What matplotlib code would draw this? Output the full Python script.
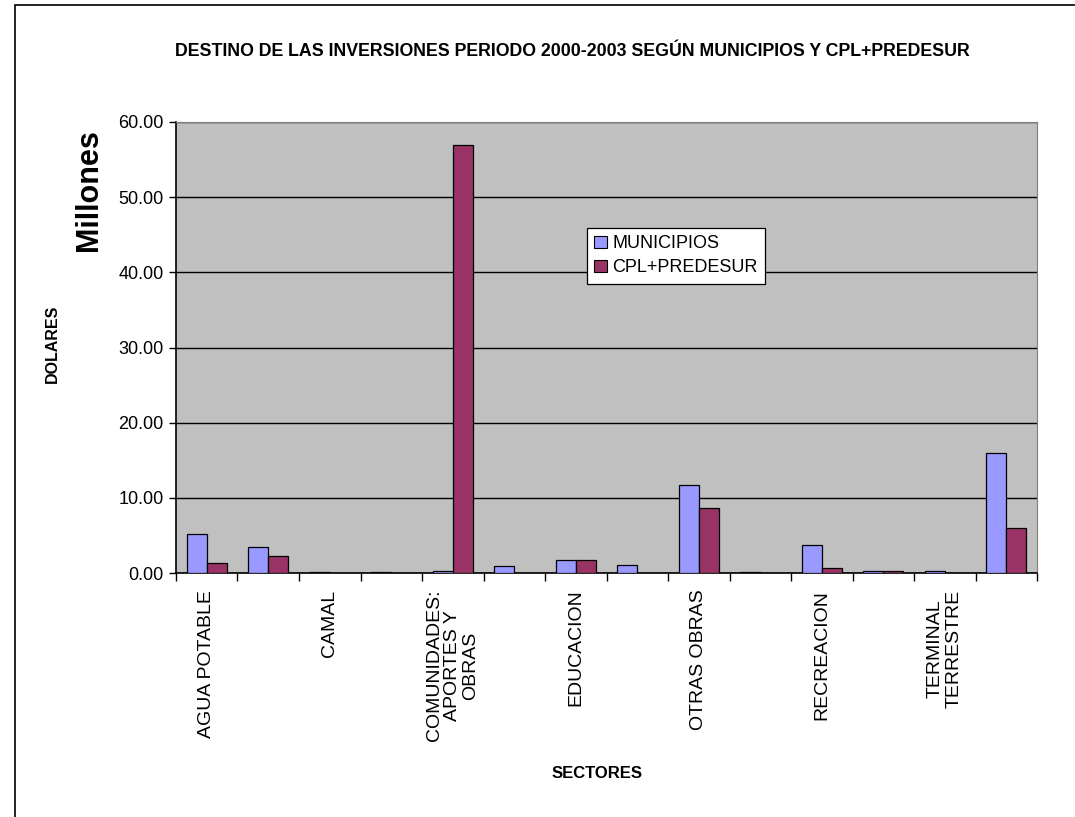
import matplotlib
matplotlib.use("Agg")
import numpy as np
from matplotlib import pyplot as plt
from matplotlib.patches import Rectangle
from matplotlib.ticker import FixedLocator, MultipleLocator, FormatStrFormatter

# Sector labels (Excel only shows every other one)
sectores = [
    "AGUA POTABLE", "", "CAMAL", "", "COMUNIDADES:\nAPORTES Y\nOBRAS", "",
    "EDUCACION", "", "OTRAS OBRAS", "", "RECREACION", "",
    "TERMINAL\nTERRESTRE", "",
]
municipios = [5.2, 3.4, 0.12, 0.1, 0.3, 0.9, 1.75, 1.05, 11.7, 0.1, 3.7, 0.3, 0.3, 16.0]
cpl_predesur = [1.35, 2.2, 0.0, 0.0, 57.0, 0.0, 1.75, 0.0, 8.6, 0.0, 0.6, 0.3, 0.0, 6.0]

blue = "#9999ff"
wine = "#993366"
plot_bg = "#c0c0c0"
sans = ["Liberation Sans", "DejaVu Sans"]

fig = plt.figure(figsize=(10.75, 8.17), dpi=100)
fig.patches.append(
    Rectangle((14.5 / 1075, -0.1), 1.2, 1.1 - 5 / 817, transform=fig.transFigure,
              fill=False, edgecolor="black", linewidth=1.2, zorder=0)
)

ax = fig.add_axes([176 / 1075, 1 - 573 / 817, (1037 - 176) / 1075, (573 - 122) / 817])
ax.set_facecolor(plot_bg)

x = np.arange(len(sectores))
w = 0.325
ax.bar(x - w / 2, municipios, w, color=blue, edgecolor="black", linewidth=0.9,
       label="MUNICIPIOS", zorder=3)
ax.bar(x + w / 2, cpl_predesur, w, color=wine, edgecolor="black", linewidth=0.9,
       label="CPL+PREDESUR", zorder=3)

ax.set_xlim(-0.5, len(sectores) - 0.5)
ax.set_ylim(0, 60)
ax.yaxis.set_major_locator(MultipleLocator(10))
ax.yaxis.set_major_formatter(FormatStrFormatter("%.2f"))
ax.grid(axis="y", color="black", linewidth=1.0, zorder=1)
ax.set_axisbelow(True)

# separators between categories as major ticks, names as minor labels
ax.xaxis.set_major_locator(FixedLocator(np.arange(-0.5, len(sectores), 1.0)))
ax.xaxis.set_major_formatter(plt.NullFormatter())
ax.xaxis.set_minor_locator(FixedLocator(x))
ax.set_xticklabels(sectores, minor=True, rotation=90, fontsize=14, family=sans,
                   multialignment="center", linespacing=1.1)
ax.tick_params(axis="x", which="major", direction="out", length=6, width=1)
ax.tick_params(axis="x", which="minor", length=0, pad=12)
ax.tick_params(axis="y", direction="out", length=5, width=1, labelsize=13, pad=4)
for lab in ax.get_yticklabels():
    lab.set_family(sans)

for side in ["top", "right"]:
    ax.spines[side].set_color("#808080")
for side in ["left", "bottom"]:
    ax.spines[side].set_color("black")
    ax.spines[side].set_linewidth(1.2)

leg = ax.legend(loc="upper left", bbox_to_anchor=(587 / 1075, 1 - 228 / 817),
                bbox_transform=fig.transFigure, borderaxespad=0, fancybox=False,
                framealpha=1, edgecolor="black", borderpad=0.4, handlelength=0.7,
                handleheight=0.7, handletextpad=0.3, labelspacing=0.4,
                prop={"family": sans, "size": 13})
leg.get_frame().set_linewidth(0.9)
for h in leg.legend_handles:
    h.set_linewidth(0.8)

fig.text(572 / 1075, 1 - 52 / 817,
         "DESTINO DE LAS INVERSIONES PERIODO 2000-2003 SEGÚN MUNICIPIOS Y CPL+PREDESUR",
         ha="center", va="center", fontsize=12.8, fontweight="bold", family=sans)
fig.text(89 / 1075, 1 - 190 / 817, "Millones", rotation=90, ha="center", va="center",
         fontsize=22, fontweight="bold", family=sans)
fig.text(52 / 1075, 1 - 344 / 817, "DOLARES", rotation=90, ha="center", va="center",
         fontsize=11.5, fontweight="bold", family=sans)
fig.text(597 / 1075, 1 - 773 / 817, "SECTORES", ha="center", va="center",
         fontsize=12, fontweight="bold", family=sans)

fig.savefig("out.png", dpi=100)
